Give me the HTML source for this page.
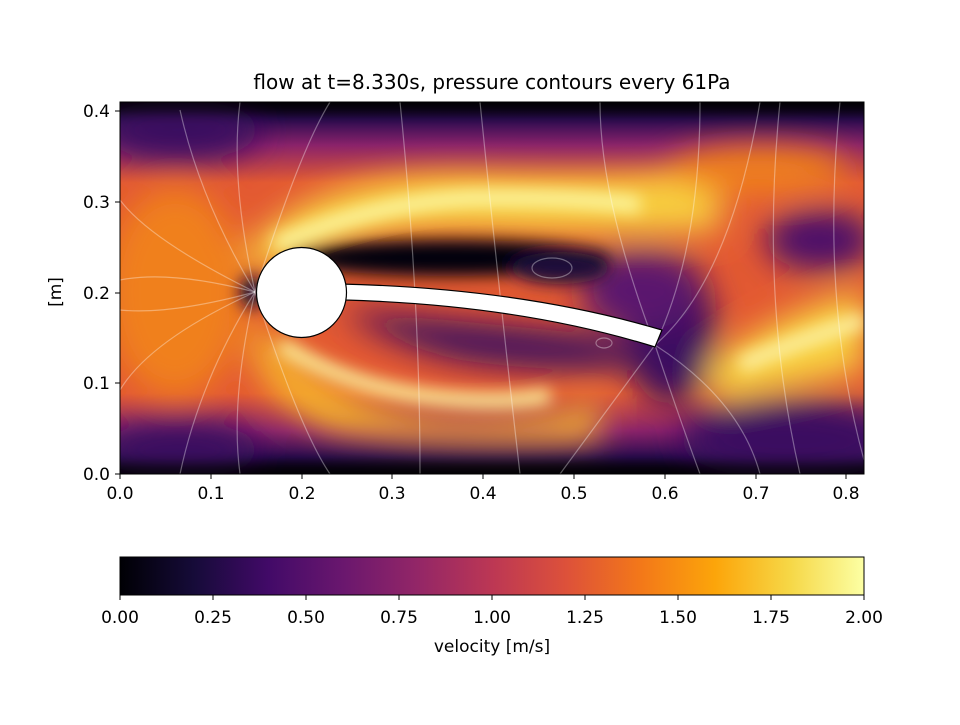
<!DOCTYPE html>
<html><head><meta charset="utf-8"><style>
body{margin:0;background:#fff;width:960px;height:720px;overflow:hidden}
text{font-family:"DejaVu Sans","Liberation Sans",sans-serif;fill:#000}
</style></head><body>
<svg width="960" height="720" viewBox="0 0 960 720" xmlns="http://www.w3.org/2000/svg">
<defs>
<clipPath id="pc"><rect x="120" y="102" width="744" height="372"/></clipPath>
<filter id="b1" x="-50%" y="-50%" width="200%" height="200%"><feGaussianBlur stdDeviation="16"/></filter>
<filter id="b2" x="-50%" y="-50%" width="200%" height="200%"><feGaussianBlur stdDeviation="8"/></filter>
<linearGradient id="inf" x1="0" x2="1" y1="0" y2="0">
<stop offset="0" stop-color="#000004"/><stop offset="0.1" stop-color="#160b39"/>
<stop offset="0.2" stop-color="#420a68"/><stop offset="0.3" stop-color="#6a176e"/>
<stop offset="0.4" stop-color="#932667"/><stop offset="0.5" stop-color="#bc3754"/>
<stop offset="0.6" stop-color="#dd513a"/><stop offset="0.7" stop-color="#f37819"/>
<stop offset="0.8" stop-color="#fca50a"/><stop offset="0.9" stop-color="#f6d746"/>
<stop offset="1" stop-color="#fcffa4"/></linearGradient>
<linearGradient id="vt" x1="0" x2="0" y1="0" y2="1">
<stop offset="0" stop-color="#000004"/><stop offset="0.05" stop-color="#2a0b50"/><stop offset="0.12" stop-color="#8a226a"/><stop offset="0.22" stop-color="#e35932"/>
<stop offset="0.78" stop-color="#e35932"/><stop offset="0.88" stop-color="#8a226a"/><stop offset="0.95" stop-color="#2a0b50"/><stop offset="1" stop-color="#000004"/></linearGradient>
</defs>
<text x="492" y="89" font-size="20" text-anchor="middle">flow at t=8.330s, pressure contours every 61Pa</text>
<g clip-path="url(#pc)">
<rect x="100" y="100" width="800" height="376" fill="url(#vt)"/>
<g filter="url(#b1)">
<ellipse cx="175" cy="292" rx="70" ry="105" fill="#f0801c"/>
<path d="M240 260 Q300 170 480 175 Q620 180 720 170 L720 230 Q600 235 480 230 Q340 225 280 270 Z" fill="#f8d040"/>
<path d="M260 320 Q330 420 470 420 Q560 420 600 400 L600 440 Q450 450 330 430 Q260 400 250 340 Z" fill="#f6b52c"/>
<path d="M700 370 Q780 310 864 290 L864 370 Q780 390 720 400 Z" fill="#f8d040"/>
<path d="M340 310 Q450 320 600 335 Q640 350 650 365 Q560 375 460 360 Q390 345 340 310 Z" fill="#3b0a60"/>
<ellipse cx="670" cy="330" rx="45" ry="75" fill="#3b0a60"/>
<ellipse cx="640" cy="290" rx="60" ry="40" fill="#5a126e"/>
<ellipse cx="820" cy="240" rx="55" ry="30" fill="#4a0c6b"/>
<ellipse cx="790" cy="440" rx="110" ry="40" fill="#3b0a60"/>
<ellipse cx="180" cy="130" rx="80" ry="30" fill="#3b0a60"/>
<ellipse cx="180" cy="450" rx="80" ry="28" fill="#3b0a60"/>
<ellipse cx="760" cy="170" rx="90" ry="25" fill="#f0801c"/>
</g>
<g filter="url(#b2)">
<ellipse cx="450" cy="258" rx="160" ry="18" fill="#05020f"/>
<ellipse cx="560" cy="268" rx="50" ry="16" fill="#1a0b3a"/>
<rect x="100" y="96" width="800" height="14" fill="#000004"/>
<rect x="100" y="466" width="800" height="14" fill="#000004"/>
<ellipse cx="252" cy="292" rx="12" ry="16" fill="#160b39"/>
<path d="M275 245 Q380 200 480 198 Q570 197 640 205" stroke="#fcf7a0" stroke-width="16" fill="none"/>
<path d="M280 345 Q360 395 470 400 Q520 402 550 395" stroke="#fcf7a0" stroke-width="14" fill="none"/>
<path d="M740 365 Q800 340 864 320" stroke="#fcf0a0" stroke-width="16" fill="none"/>
</g>
<g stroke="#ffffff" stroke-opacity="0.35" fill="none" stroke-width="1.2">
<path d="M255 292 Q200 200 180 110"/><path d="M255 292 Q200 380 180 474"/>
<path d="M255 292 Q150 240 120 200"/><path d="M255 292 Q150 340 120 390"/>
<path d="M255 292 Q230 180 240 102"/><path d="M255 292 Q230 400 240 474"/>
<path d="M255 292 Q300 150 330 102"/><path d="M255 292 Q300 430 330 474"/>
<path d="M255 292 Q170 270 120 280"/><path d="M255 292 Q170 315 120 310"/>
<path d="M655 345 Q700 250 700 102"/><path d="M655 345 Q680 420 700 474"/>
<path d="M655 345 Q600 420 560 474"/><path d="M655 345 Q600 200 600 102"/>
<path d="M655 345 Q730 280 760 102"/><path d="M655 345 Q740 400 760 474"/>
<path d="M400 102 Q420 300 420 474"/><path d="M480 102 Q500 300 520 474"/>
<path d="M780 102 Q760 300 800 474"/><path d="M840 102 Q820 300 864 460"/>
<ellipse cx="552" cy="268" rx="20" ry="10"/><ellipse cx="604" cy="343" rx="8" ry="5"/>
</g>
<path d="M340 284 L345 300 Q520 305 655 347 L662 330 Q520 288 340 284 Z" fill="#fff" stroke="#000" stroke-width="1.2"/>
<circle cx="301.5" cy="292.5" r="45" fill="#fff" stroke="#000" stroke-width="1.2"/>
</g>
<rect x="120" y="102" width="744" height="372" fill="none" stroke="#000" stroke-width="1"/>
<g font-size="17" text-anchor="middle">
<g stroke="#000"><line x1="120" y1="474" x2="120" y2="479"/><line x1="211" y1="474" x2="211" y2="479"/><line x1="302" y1="474" x2="302" y2="479"/><line x1="392" y1="474" x2="392" y2="479"/><line x1="483" y1="474" x2="483" y2="479"/><line x1="574" y1="474" x2="574" y2="479"/><line x1="665" y1="474" x2="665" y2="479"/><line x1="756" y1="474" x2="756" y2="479"/><line x1="846" y1="474" x2="846" y2="479"/>
<line x1="115" y1="474" x2="120" y2="474"/><line x1="115" y1="383" x2="120" y2="383"/><line x1="115" y1="293" x2="120" y2="293"/><line x1="115" y1="202" x2="120" y2="202"/><line x1="115" y1="111" x2="120" y2="111"/></g>
<text x="120" y="499">0.0</text><text x="211" y="499">0.1</text><text x="302" y="499">0.2</text><text x="392" y="499">0.3</text><text x="483" y="499">0.4</text><text x="574" y="499">0.5</text><text x="665" y="499">0.6</text><text x="756" y="499">0.7</text><text x="846" y="499">0.8</text>
</g>
<g font-size="17" text-anchor="end">
<text x="110" y="480">0.0</text><text x="110" y="389">0.1</text><text x="110" y="299">0.2</text><text x="110" y="208">0.3</text><text x="110" y="117">0.4</text>
</g>
<text x="61" y="292" font-size="17" text-anchor="middle" transform="rotate(-90 61 292)">[m]</text>
<rect x="120" y="557" width="744" height="38" fill="url(#inf)" stroke="#000" stroke-width="1"/>
<g stroke="#000"><line x1="120" y1="595" x2="120" y2="600"/><line x1="213" y1="595" x2="213" y2="600"/><line x1="306" y1="595" x2="306" y2="600"/><line x1="399" y1="595" x2="399" y2="600"/><line x1="492" y1="595" x2="492" y2="600"/><line x1="585" y1="595" x2="585" y2="600"/><line x1="678" y1="595" x2="678" y2="600"/><line x1="771" y1="595" x2="771" y2="600"/><line x1="864" y1="595" x2="864" y2="600"/></g>
<g font-size="17" text-anchor="middle">
<text x="120" y="623">0.00</text><text x="213" y="623">0.25</text><text x="306" y="623">0.50</text><text x="399" y="623">0.75</text><text x="492" y="623">1.00</text><text x="585" y="623">1.25</text><text x="678" y="623">1.50</text><text x="771" y="623">1.75</text><text x="864" y="623">2.00</text>
<text x="492" y="652">velocity [m/s]</text>
</g>
</svg>
</body></html>
